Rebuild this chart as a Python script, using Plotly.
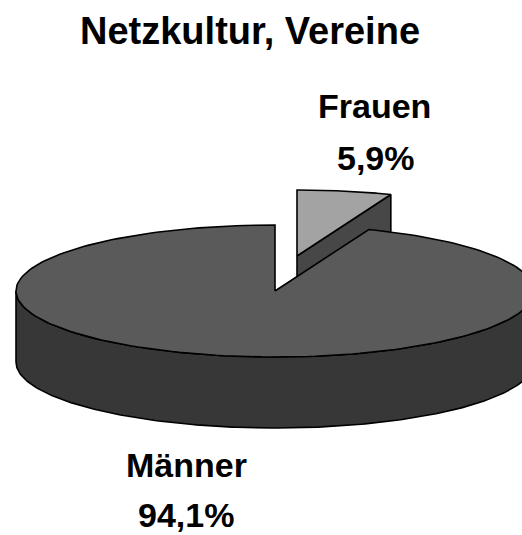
import numpy as np
import plotly.graph_objects as go

# ---- data ----
categories = ["Frauen", "Männer"]
shares = [5.9, 94.1]          # percent
title_text = "Netzkultur, Vereine"

# ---- style / geometry ----
W, H = 522, 535
cx, cy = 275, 291      # pie centre (pixel-like axis units)
ra, rb = 259, 66       # ellipse radii
depth = 71             # thickness of the 3D pie
explode = (22, -35)    # offset of the pulled slice
top_cols = ["#a3a3a3", "#5a5a5a"]
side_cols = ["#474747", "#373737"]
edge = dict(color="black", width=1.6)


def pt(phi, dx=0.0, dy=0.0, dz=0.0):
    """phi: degrees clockwise from 12 o'clock."""
    r = np.radians(phi)
    return cx + dx + ra * np.sin(r), cy + dy - rb * np.cos(r) + dz


def arc(p0, p1, dx=0.0, dy=0.0, dz=0.0, n=200):
    phis = np.linspace(p0, p1, n)
    xs, ys = zip(*[pt(p, dx, dy, dz) for p in phis])
    return list(xs), list(ys)


total = sum(shares)
angles = np.cumsum([0] + [s / total * 360 for s in shares])

fig = go.Figure()

def poly(xs, ys, color):
    fig.add_trace(go.Scatter(x=xs + [xs[0]], y=ys + [ys[0]], mode="lines",
                             fill="toself", fillcolor=color, line=edge,
                             hoverinfo="skip", showlegend=False))

# pulled slice (Frauen), drawn first (behind main body)
p0, p1 = angles[0], angles[1]
dx, dy = explode
cxs, cys = cx + dx, cy + dy
rx, ry = pt(p1, dx, dy)
# radial cut face at end angle
poly([cxs, rx, rx, cxs], [cys, ry, ry + depth, cys + depth], side_cols[0])
# top face
ax_, ay_ = arc(p0, p1, dx, dy)
poly([cxs] + ax_, [cys] + ay_, top_cols[0])

# main slice (Männer)
q0, q1 = angles[1], angles[2]
# front side wall (visible part between 90 and 270 deg)
s0, s1 = max(q0, 90), min(q1, 270)
tx, ty = arc(s0, s1)
bx, by = arc(s1, s0, dz=depth)
poly(tx + bx, ty + by, side_cols[1])
# top face
mx, my = arc(q0, q1)
poly([cx] + mx, [cy] + my, top_cols[1])

# ---- labels ----
font = dict(family="Liberation Sans, Arial, sans-serif", color="black")

def label(text, x, y, size):
    fig.add_annotation(x=x, y=y, xref="x", yref="y", text=f"<b>{text}</b>",
                       showarrow=False, xanchor="center", yanchor="middle",
                       font=dict(size=size, **font))

def pct(v):
    return f"{v:.1f}".replace(".", ",") + "%"

label(title_text, 250, 31, 38)
label(categories[0], 374, 106, 34)
label(pct(shares[0]), 376, 158, 34)
label(categories[1], 186, 465, 34)
label(pct(shares[1]), 186, 515, 34)

fig.update_layout(
    width=W, height=H, margin=dict(l=0, r=0, t=0, b=0),
    paper_bgcolor="white", plot_bgcolor="white",
    xaxis=dict(range=[0, W], visible=False, fixedrange=True),
    yaxis=dict(range=[H, 0], visible=False, fixedrange=True),
)
fig.write_html("out.html", config={"displayModeBar": False},
               post_script="document.body.style.margin='0';"
                           "document.body.style.overflow='hidden';")
